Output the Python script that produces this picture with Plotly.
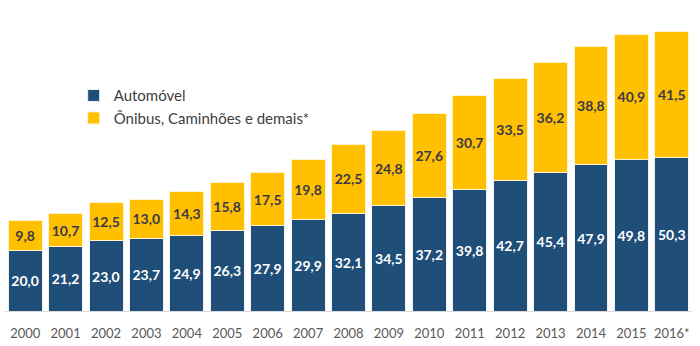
import plotly.graph_objects as go

years = ["2000","2001","2002","2003","2004","2005","2006","2007","2008","2009","2010","2011","2012","2013","2014","2015","2016*"]
automovel = [20.0,21.2,23.0,23.7,24.9,26.3,27.9,29.9,32.1,34.5,37.2,39.8,42.7,45.4,47.9,49.8,50.3]
outros = [9.8,10.7,12.5,13.0,14.3,15.8,17.5,19.8,22.5,24.8,27.6,30.7,33.5,36.2,38.8,40.9,41.5]

fig = go.Figure()
fig.add_trace(go.Bar(
    x=years, y=automovel, name="Automóvel",
    marker=dict(color="#1F4E79", line=dict(color="#EEF2F7", width=1)),
    texttemplate="%{y:.1f}", textposition="inside", insidetextanchor="middle", textangle=0,
    textfont=dict(family="Lato", size=15, color="white", weight="bold"),
))
fig.add_trace(go.Bar(
    x=years, y=outros, name="Ônibus, Caminhões e demais*",
    marker=dict(color="#FFC000", line=dict(color="#FFF2CC", width=1)),
    texttemplate="%{y:.1f}", textposition="inside", insidetextanchor="middle", textangle=0,
    textfont=dict(family="Lato", size=15, color="#3A3A48", weight="bold"),
))
fig.update_layout(
    barmode="stack", bargap=0.16,
    width=700, height=346,
    margin=dict(l=5, r=8, t=6, b=35),
    paper_bgcolor="white", plot_bgcolor="white",
    separators=",.",
    uniformtext=dict(minsize=10, mode="show"),
    font=dict(family="Lato", color="#595959"),
    legend=dict(x=0.1, y=0.76, xanchor="left", yanchor="top",
                font=dict(size=15, color="#404040"), bgcolor="rgba(0,0,0,0)",
                traceorder="normal", itemwidth=30, tracegroupgap=0),
    xaxis=dict(showgrid=False, showline=True, linecolor="#D9D9D9", linewidth=1,
               ticks="", ticklabelstandoff=10, tickfont=dict(size=13, color="#595959"),
               range=[-0.5, 16.5]),
    yaxis=dict(visible=False, range=[0, 100]),
)
fig.write_html("out.html")
